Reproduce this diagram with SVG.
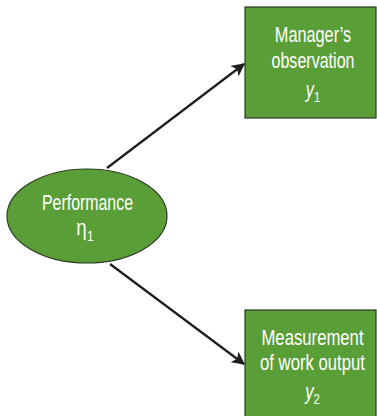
<svg xmlns="http://www.w3.org/2000/svg" width="377" height="416" viewBox="0 0 377 416">
  <style>
    .node { fill: #5a9e37; stroke: #2b3a22; stroke-width: 1.2; }
    .lbl { fill: #ffffff; font-family: "Liberation Sans", Arial, sans-serif; font-size: 22px; text-anchor: middle; }
    .sub { font-size: 15px; }
    .edge { stroke: #1e1e1e; stroke-width: 2.2; fill: none; marker-end: url(#arrow); }
  </style>
  <defs>
    <marker id="arrow" viewBox="0 0 10 10" refX="9" refY="5" markerWidth="6" markerHeight="6" orient="auto" markerUnits="strokeWidth">
      <path d="M0,0 L10,5 L0,10 L2.5,5 Z" fill="#1e1e1e"/>
    </marker>
  </defs>
  <rect width="377" height="416" fill="#ffffff"/>
  <g id="connectors">
    <line class="edge" x1="107" y1="168" x2="244" y2="64"/>
    <line class="edge" x1="110" y1="264" x2="244" y2="364"/>
  </g>
  <g id="performance">
    <ellipse class="node" cx="87" cy="216" rx="80" ry="47"/>
    <g transform="translate(87.5,0) scale(0.723,1)">
      <text class="lbl" x="0" y="210">Performance</text>
    </g>
    <g transform="translate(85,0) scale(0.85,1)">
      <text class="lbl" x="0" y="235">η<tspan class="sub" dy="6">1</tspan></text>
    </g>
  </g>
  <g id="manager-observation">
    <rect class="node" x="245" y="7" width="131" height="111"/>
    <g transform="translate(313,0) scale(0.74,1)">
      <text class="lbl" x="0" y="42">Manager’s</text>
      <text class="lbl" x="0" y="68" transform="scale(0.987,1)">observation</text>
      <text class="lbl" x="0" y="97"><tspan font-style="italic">y</tspan><tspan class="sub" dy="5">1</tspan></text>
    </g>
  </g>
  <g id="work-output">
    <rect class="node" x="245" y="310" width="131" height="110"/>
    <g transform="translate(312.5,0) scale(0.76,1)">
      <text class="lbl" x="0" y="345">Measurement</text>
      <text class="lbl" x="0" y="370">of work output</text>
      <text class="lbl" x="0" y="399"><tspan font-style="italic">y</tspan><tspan class="sub" dy="5">2</tspan></text>
    </g>
  </g>
</svg>
